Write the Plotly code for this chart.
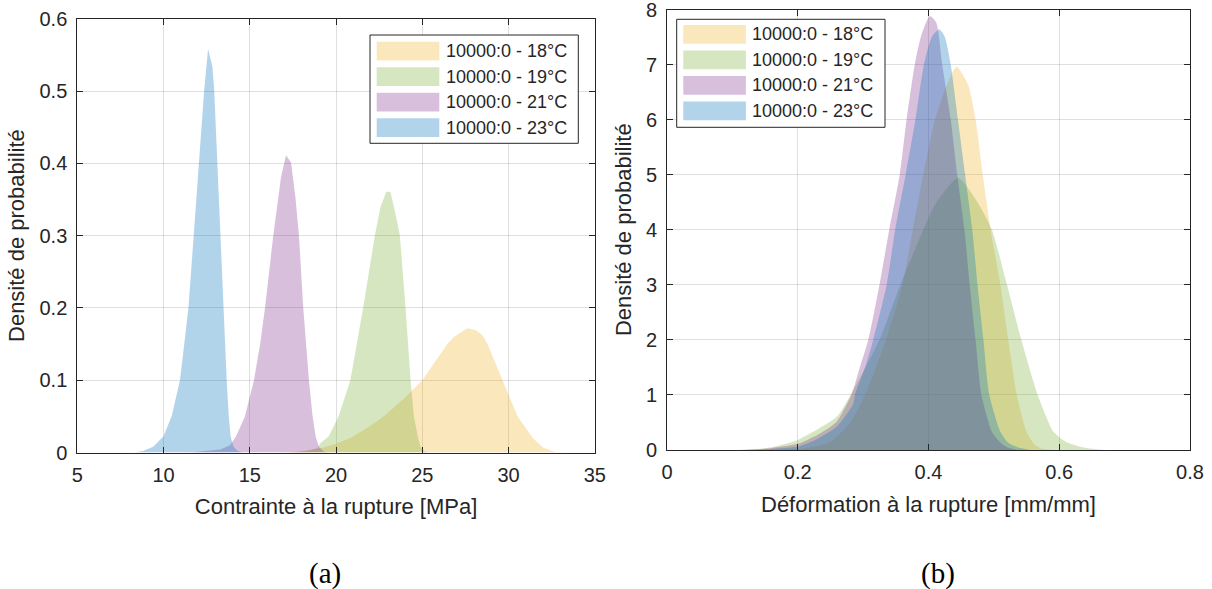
import plotly.graph_objects as go

# the page body margin is removed (see write_html below), so the figure fills the window
OX, OY = 0, 0
W, H = 1212, 589

labels = ["10000:0 - 18°C", "10000:0 - 19°C", "10000:0 - 21°C", "10000:0 - 23°C"]
fill_colors = ["rgba(237,177,32,0.3)", "rgba(119,172,48,0.3)",
               "rgba(126,47,142,0.3)", "rgba(0,114,189,0.3)"]

# ---- (a) Contrainte à la rupture [MPa] ----
stress_18_x = [17.0, 18.0, 19.09, 20.0, 20.83, 22.0, 22.77, 24.0, 25.0, 26.45, 26.84, 27.62,
               28.1, 28.49, 28.78, 29.65, 30.52, 31.4, 32.0, 32.66, 33.2]
stress_18_y = [0.0, 0.002, 0.006, 0.012, 0.02, 0.037, 0.05, 0.076, 0.1, 0.15, 0.16, 0.172,
               0.169, 0.162, 0.15, 0.1, 0.05, 0.02, 0.007, 0.001, 0.0]

stress_19_x = [17.5, 18.3, 18.9, 19.1, 19.57, 20.15, 20.83, 21.2, 21.57, 22.25, 22.58, 22.92,
               23.16, 23.5, 23.7, 24.03, 24.32, 24.51, 24.74, 24.9, 25.1, 25.4]
stress_19_y = [0.0, 0.002, 0.006, 0.013, 0.022, 0.05, 0.1, 0.15, 0.2, 0.3, 0.34, 0.361,
               0.36, 0.324, 0.3, 0.2, 0.1, 0.05, 0.022, 0.008, 0.002, 0.0]

stress_21_x = [11.5, 12.5, 13.3, 13.85, 14.2, 14.72, 15.24, 15.6, 15.88, 16.36, 16.81, 17.10,
               17.39, 17.64, 17.85, 18.1, 18.43, 18.64, 18.82, 19.0, 19.3, 19.6]
stress_21_y = [0.0, 0.002, 0.004, 0.01, 0.022, 0.05, 0.1, 0.15, 0.2, 0.3, 0.381, 0.411,
               0.401, 0.354, 0.3, 0.2, 0.1, 0.05, 0.022, 0.008, 0.001, 0.0]

stress_23_x = [8.3, 8.8, 9.4, 9.99, 10.47, 10.95, 11.2, 11.44, 11.73, 12.06, 12.35, 12.58,
               12.83, 12.94, 13.12, 13.27, 13.46, 13.66, 13.78, 13.89, 14.05, 14.3, 14.6]
stress_23_y = [0.0, 0.002, 0.008, 0.022, 0.05, 0.1, 0.15, 0.2, 0.294, 0.4, 0.5, 0.558,
               0.534, 0.5, 0.4, 0.3, 0.2, 0.1, 0.05, 0.022, 0.008, 0.002, 0.0]

# ---- (b) Déformation à la rupture [mm/mm] ----
strain_18_x = [0.17, 0.21, 0.25, 0.28, 0.303, 0.335, 0.36, 0.376, 0.392, 0.41, 0.428, 0.443,
               0.4607, 0.472, 0.483, 0.495, 0.51, 0.522, 0.535, 0.55, 0.562, 0.575, 0.59]
strain_18_y = [0.0, 0.03, 0.15, 0.5, 1.0, 2.0, 3.0, 4.0, 5.0, 6.0, 6.63, 6.96,
               6.63, 6.0, 5.0, 4.0, 3.0, 2.0, 1.0, 0.33, 0.1, 0.02, 0.0]

strain_19_x = [0.12, 0.16, 0.20, 0.2595, 0.281, 0.325, 0.357, 0.392, 0.412, 0.4455,
               0.475, 0.497, 0.52, 0.542, 0.567, 0.591, 0.61, 0.635, 0.67]
strain_19_y = [0.0, 0.05, 0.18, 0.6, 1.0, 2.0, 3.0, 4.0, 4.5, 4.94,
               4.5, 4.0, 3.0, 2.0, 1.0, 0.33, 0.15, 0.05, 0.0]

strain_21_x = [0.10, 0.15, 0.20, 0.23, 0.2595, 0.282, 0.295, 0.308, 0.325, 0.34, 0.356, 0.3665,
               0.379, 0.389, 0.402, 0.412, 0.421, 0.434, 0.444, 0.455, 0.463, 0.472, 0.481,
               0.497, 0.51, 0.52, 0.535]
strain_21_y = [0.0, 0.02, 0.11, 0.27, 0.51, 1.0, 1.5, 2.0, 3.0, 4.0, 5.0, 6.0,
               7.0, 7.53, 7.88, 7.76, 7.0, 6.0, 5.0, 4.0, 3.0, 2.0, 1.0,
               0.33, 0.13, 0.05, 0.0]

strain_23_x = [0.11, 0.16, 0.20, 0.23, 0.2595, 0.285, 0.2875, 0.303, 0.3155, 0.336, 0.349, 0.365,
               0.380, 0.393, 0.405, 0.4164, 0.425, 0.434, 0.445, 0.456, 0.467, 0.475, 0.484,
               0.493, 0.51, 0.522, 0.536, 0.555]
strain_23_y = [0.0, 0.015, 0.06, 0.2, 0.42, 0.84, 1.0, 1.5, 2.0, 3.0, 4.0, 5.0,
               6.0, 7.0, 7.5, 7.64, 7.5, 7.0, 6.0, 5.0, 4.0, 3.0, 2.0,
               1.0, 0.33, 0.13, 0.05, 0.0]

stress_series = [(stress_18_x, stress_18_y), (stress_19_x, stress_19_y),
                 (stress_21_x, stress_21_y), (stress_23_x, stress_23_y)]
strain_series = [(strain_18_x, strain_18_y), (strain_19_x, strain_19_y),
                 (strain_21_x, strain_21_y), (strain_23_x, strain_23_y)]

fig = go.Figure()
for (sx, sy), lab, col in zip(stress_series, labels, fill_colors):
    fig.add_trace(go.Scatter(x=sx, y=sy, name=lab, mode="lines", fill="tozeroy",
                             fillcolor=col, line=dict(width=0, color=col),
                             showlegend=False, xaxis="x", yaxis="y"))
for (sx, sy), lab, col in zip(strain_series, labels, fill_colors):
    fig.add_trace(go.Scatter(x=sx, y=sy, name=lab, mode="lines", fill="tozeroy",
                             fillcolor=col, line=dict(width=0, color=col, shape="spline", smoothing=0.6),
                             showlegend=False, xaxis="x2", yaxis="y2"))

def px(x):
    return min(1.0, max(0.0, (x - OX) / W))

def py(y):
    return min(1.0, max(0.0, 1 - (y - OY) / H))

TXT = "#262626"
FONT = "Liberation Sans, Arial, sans-serif"
axis_common = dict(showline=True, linecolor=TXT, linewidth=1, mirror="ticks",
                   ticks="inside", ticklen=6, tickwidth=1, tickcolor=TXT,
                   showgrid=True, gridcolor="rgba(38,38,38,0.15)", gridwidth=1,
                   zeroline=False, automargin=False, ticklabeloverflow="allow",
                   tickfont=dict(family=FONT, size=20, color=TXT))
xcommon = dict(axis_common, ticklabelstandoff=4)
ycommon = dict(axis_common, ticklabelstandoff=5)

fig.update_layout(
    width=W, height=H, autosize=False,
    margin=dict(l=0, r=0, t=0, b=0),
    paper_bgcolor="white", plot_bgcolor="white",
    xaxis=dict(domain=[px(77.3), px(594.8)], range=[5, 35], dtick=5, anchor="y",
               title=dict(text="Contrainte à la rupture [MPa]", standoff=14,
                          font=dict(family=FONT, size=22, color=TXT)), **xcommon),
    yaxis=dict(domain=[py(452.5), py(18.7)], range=[0, 0.6], dtick=0.1, anchor="x",
               title=dict(text="Densité de probabilité", standoff=8,
                          font=dict(family=FONT, size=22, color=TXT)), **ycommon),
    xaxis2=dict(domain=[px(667), px(1190)], range=[0, 0.8], dtick=0.2, anchor="y2",
                title=dict(text="Déformation à la rupture [mm/mm]", standoff=14,
                           font=dict(family=FONT, size=22, color=TXT)), **xcommon),
    yaxis2=dict(domain=[py(449.9), py(9.5)], range=[0, 8], dtick=1, anchor="x2",
                title=dict(text="Densité de probabilité", standoff=8,
                           font=dict(family=FONT, size=22, color=TXT)), **ycommon),
)

shapes = []
annotations = []

def add_legend(left, top, width, height, sw_x0, sw_w, row_y0, row_pitch, sw_h, text_x):
    shapes.append(dict(type="rect", xref="paper", yref="paper",
                       x0=px(left), x1=px(left + width), y0=py(top + height), y1=py(top),
                       line=dict(color=TXT, width=1), fillcolor="white", layer="above"))
    for i, (lab, col) in enumerate(zip(labels, fill_colors)):
        y0 = row_y0 + i * row_pitch
        shapes.append(dict(type="rect", xref="paper", yref="paper",
                           x0=px(sw_x0), x1=px(sw_x0 + sw_w), y0=py(y0 + sw_h), y1=py(y0),
                           line=dict(width=0), fillcolor=col, layer="above"))
        annotations.append(dict(text=lab, xref="paper", yref="paper", x=px(text_x),
                                y=py(y0 + sw_h / 2), xanchor="left", yanchor="middle",
                                showarrow=False, font=dict(family=FONT, size=18, color=TXT)))

add_legend(370, 35, 208.3, 108.3, 376.7, 62.6, 41.7, 25.5, 18.7, 444)
add_legend(676.7, 19.3, 208.3, 108.0, 683.3, 62.6, 25.0, 25.5, 18.7, 750)

SERIF = "Liberation Serif, Times New Roman, serif"
annotations.append(dict(text="(a)", xref="paper", yref="paper", x=px(325), y=py(573),
                        xanchor="center", yanchor="middle", showarrow=False,
                        font=dict(family=SERIF, size=29, color="black")))
annotations.append(dict(text="(b)", xref="paper", yref="paper", x=px(938), y=py(573),
                        xanchor="center", yanchor="middle", showarrow=False,
                        font=dict(family=SERIF, size=29, color="black")))

fig.update_layout(shapes=shapes, annotations=annotations)
fig.write_html("out.html", config={"displayModeBar": False},
               post_script="document.body.style.margin='0';document.body.style.overflow='hidden';")
